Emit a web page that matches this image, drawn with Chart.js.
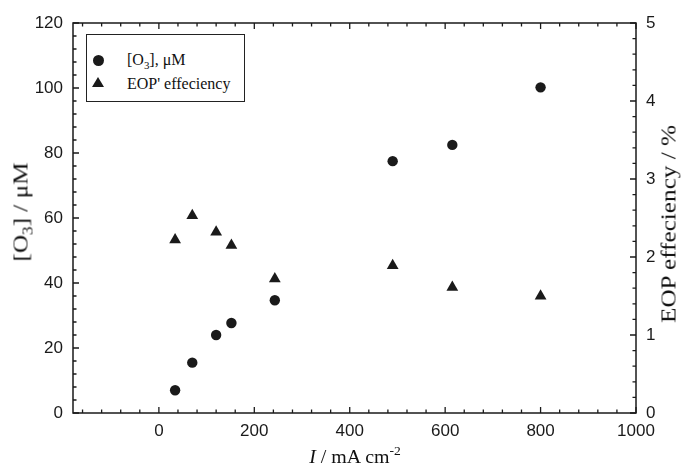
<!DOCTYPE html>
<html><head><meta charset="utf-8">
<script src="https://cdn.jsdelivr.net/npm/chart.js@4.4.1/dist/chart.umd.min.js"></script>
<style>
body{margin:0;background:#fff}
#wrap{position:relative;width:681px;height:465px;overflow:hidden}
canvas{display:block}
.t{position:absolute;font-family:"Liberation Serif","Times New Roman",serif;font-size:21px;color:#111;white-space:nowrap;line-height:1}
.rot{transform:translate(-50%,-50%) rotate(-90deg) scaleX(1.2)}
.hc{transform:translate(-50%,-50%) scaleX(1.05)}
sub{font-size:68%;vertical-align:-0.35em;line-height:0}
sup{font-size:68%;vertical-align:0.55em;line-height:0}
#legend{position:absolute;border:1.3px solid #222;background:#fff;font-family:"Liberation Serif","Times New Roman",serif;font-size:16px;color:#111}
.li{position:absolute;white-space:nowrap;line-height:1}
.mk{position:absolute}
</style></head>
<body>
<div id="wrap">
<canvas id="c" width="681" height="465"></canvas>
<div id="legend"></div>
<div class="t rot" id="ytitle">[O<sub>3</sub>] / μM</div>
<div class="t rot" id="y1title">EOP effeciency / %</div>
<div class="t hc" id="xtitle" style="font-size:19px"><i>I</i> / mA cm<sup>-2</sup></div>
</div>
<script>
// ---- data ----
const currentDensity = [34, 70, 120, 152, 243, 490, 615, 800];
const ozone = [7.0, 15.5, 24.0, 27.7, 34.7, 77.5, 82.5, 100.2];
const eopEfficiency = [2.22, 2.53, 2.32, 2.15, 1.72, 1.89, 1.61, 1.50];
const seriesNames = ['[O₃], μM', "EOP' effeciency"];
const xTickLabels = [0, 200, 400, 600, 800, 1000];
const yTickLabels = [0, 20, 40, 60, 80, 100, 120];
const y1TickLabels = [0, 1, 2, 3, 4, 5];

const ink = '#1a1a1a';
const tickFont = {family: '"Liberation Sans", Arial, sans-serif', size: 17};
const plain = v => String(v);

const frameTicks = {
  id: 'frameTicks',
  afterDraw(chart) {
    const ctx = chart.ctx, a = chart.chartArea;
    const sx = chart.scales.x, sy = chart.scales.y, sy1 = chart.scales.y1;
    ctx.save();
    ctx.strokeStyle = ink;
    ctx.lineWidth = 1.5;
    ctx.strokeRect(a.left, a.top, a.right - a.left, a.bottom - a.top);
    ctx.lineWidth = 1.3;
    const MAJ = 6, MIN = 3.5;
    ctx.beginPath();
    for (let v = Math.ceil(sx.min / 40) * 40; v <= sx.max; v += 40) {
      const p = sx.getPixelForValue(v);
      const L = (v % 200 === 0) ? MAJ : MIN;
      ctx.moveTo(p, a.bottom); ctx.lineTo(p, a.bottom - L);
      ctx.moveTo(p, a.top); ctx.lineTo(p, a.top + L);
    }
    for (let v = 0; v <= sy.max; v += 4) {
      const p = sy.getPixelForValue(v);
      const L = (v % 20 === 0) ? MAJ : MIN;
      ctx.moveTo(a.left, p); ctx.lineTo(a.left + L, p);
    }
    for (let i = 0; i <= sy1.max * 5; i++) {
      const p = sy1.getPixelForValue(i / 5);
      const L = (i % 5 === 0) ? MAJ : MIN;
      ctx.moveTo(a.right, p); ctx.lineTo(a.right - L, p);
    }
    ctx.stroke();
    ctx.restore();
  }
};

const chart = new Chart(document.getElementById('c'), {
  type: 'scatter',
  data: {
    datasets: [
      {label: seriesNames[0], data: currentDensity.map((x, i) => ({x, y: ozone[i]})),
       yAxisID: 'y', pointStyle: 'circle', pointRadius: 5.2, backgroundColor: ink, borderColor: ink, borderWidth: 0},
      {label: seriesNames[1], data: currentDensity.map((x, i) => ({x, y: eopEfficiency[i]})),
       yAxisID: 'y1', pointStyle: 'triangle', pointRadius: 6.8, backgroundColor: ink, borderColor: ink, borderWidth: 0}
    ]
  },
  options: {
    responsive: false,
    animation: false,
    layout: {padding: {top: 23, left: 0, right: 0, bottom: 0}},
    plugins: {legend: {display: false}, tooltip: {enabled: false}},
    scales: {
      x: {
        type: 'linear', min: -180, max: 1000,
        afterBuildTicks: s => { s.ticks = xTickLabels.map(v => ({value: v})); },
        afterFit: s => { s.height = 52; },
        grid: {display: false, drawTicks: false}, border: {display: false},
        ticks: {font: tickFont, color: ink, padding: 8, maxRotation: 0, callback: plain}
      },
      y: {
        type: 'linear', position: 'left', min: 0, max: 120,
        afterBuildTicks: s => { s.ticks = yTickLabels.map(v => ({value: v})); },
        afterFit: s => { s.width = 73; },
        grid: {display: false, drawTicks: false}, border: {display: false},
        ticks: {font: tickFont, color: ink, padding: 10, callback: plain}
      },
      y1: {
        type: 'linear', position: 'right', min: 0, max: 5,
        afterBuildTicks: s => { s.ticks = y1TickLabels.map(v => ({value: v})); },
        afterFit: s => { s.width = 45; },
        grid: {display: false, drawTicks: false}, border: {display: false},
        ticks: {font: tickFont, color: ink, padding: 10, callback: plain}
      }
    }
  },
  plugins: [frameTicks]
});

const A = chart.chartArea;
const midY = (A.top + A.bottom) / 2, midX = (A.left + A.right) / 2;
const yt = document.getElementById('ytitle');  yt.style.left = (A.left - 52) + 'px'; yt.style.top = (midY - 6) + 'px';
const y1t = document.getElementById('y1title'); y1t.style.left = (A.right + 33) + 'px'; y1t.style.top = (midY + 6) + 'px';
const xt = document.getElementById('xtitle');  xt.style.left = midX + 'px'; xt.style.top = (A.bottom + 43) + 'px';

const lg = document.getElementById('legend');
lg.style.left = (A.left + 13) + 'px'; lg.style.top = (A.top + 11) + 'px';
lg.style.width = '157px'; lg.style.height = '66px';
const styles = ['circle', 'triangle'];
seriesNames.forEach((name, i) => {
  const rowY = 25 + i * 24;
  const mk = document.createElement('div'); mk.className = 'mk';
  if (styles[i] === 'circle') {
    mk.style.cssText = `left:6px;top:${rowY - 5.5}px;width:11px;height:11px;border-radius:50%;background:${ink}`;
  } else {
    mk.style.cssText = `left:5px;top:${rowY - 7}px;width:0;height:0;border-left:6px solid transparent;border-right:6px solid transparent;border-bottom:10.5px solid ${ink}`;
  }
  lg.appendChild(mk);
  const tx = document.createElement('div'); tx.className = 'li';
  tx.style.left = '40px'; tx.style.top = (rowY - 8) + 'px';
  tx.innerHTML = name.replace('₃', '<sub>3</sub>');
  lg.appendChild(tx);
});
</script>
</body></html>
